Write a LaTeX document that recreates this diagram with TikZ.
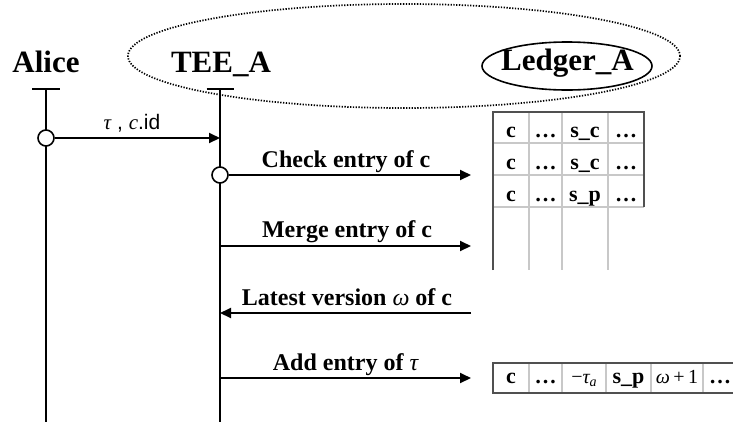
\documentclass[tikz,border=0pt]{standalone}
\usepackage{fontspec}
\setmainfont{Liberation Serif}
\setsansfont{Liberation Sans}
\usetikzlibrary{arrows.meta}
\definecolor{griddark}{HTML}{505050}
\definecolor{gridlight}{HTML}{C8C8C8}

% italic Greek letters taken from the serif text font
\newcommand{\gtau}{{\rmfamily\mdseries\itshape τ}}
\newcommand{\gomega}{{\rmfamily\mdseries\itshape ω}}

\tikzset{
  head/.style={anchor=base, inner sep=0pt, font=\fontsize{31}{31}\selectfont\bfseries},
  life/.style={line width=2pt},
  tbar/.style={line width=2pt},
  msg/.style={line width=2pt, -{Triangle[length=11pt,width=10pt]}},
  msglabel/.style={anchor=base, inner sep=0pt, font=\fontsize{24}{24}\selectfont\bfseries},
  origin/.style={circle, draw, fill=white, line width=1.6pt, minimum size=16pt, inner sep=0pt},
  cell/.style={anchor=base, inner sep=0pt, font=\fontsize{22}{22}\selectfont\bfseries},
  mcell/.style={anchor=base, inner sep=0pt, font=\fontsize{20}{20}\selectfont},
  gridin/.style={draw=gridlight, line width=1.2pt},
  gridout/.style={draw=griddark, line width=1.2pt},
  enclave/.style={line width=1.7pt, dash pattern=on 1.3pt off 1.5pt},
}

\begin{document}
\begin{tikzpicture}[x=1pt, y=-1pt]
\useasboundingbox (0,0) rectangle (733,424);

% trusted domain around the enclave and its ledger
\draw[enclave] (404,56) ellipse [x radius=276pt, y radius=52pt];

% participants
\node[head] (alice) at (46,72) {Alice};
\node[head] (tee) at (221,72) {TEE\_A};
\node[head] (ledger) at (567.5,70) {Ledger\_A};
\draw[line width=1.6pt] (567,66) ellipse [x radius=85pt, y radius=24pt];

% lifelines
\coordinate (aliceTop) at (46,89);
\coordinate (aliceBot) at (46,422);
\coordinate (teeTop) at (220,89);
\coordinate (teeBot) at (220,422);
\draw[life] (aliceTop) -- (aliceBot);
\draw[life] (teeTop) -- (teeBot);
\draw[tbar] ([xshift=-14pt]aliceTop) -- ([xshift=14pt]aliceTop);
\draw[tbar] ([xshift=-13.5pt]teeTop) -- ([xshift=13.5pt]teeTop);

% message 1: Alice -> TEE_A
\node[origin] (o1) at (46,138) {};
\coordinate (m1end) at (220,138);
\draw[msg] (o1.east) -- (m1end);
\node[anchor=base, inner sep=0pt, font=\sffamily\fontsize{21}{21}\selectfont] (m1lab) at (132,129)
  {\gtau\ , {\rmfamily\itshape c}.id};

% message 2: check entry
\node[origin] (o2) at (220,175) {};
\coordinate (m2end) at (471,175);
\draw[msg] (o2.east) -- (m2end);
\node[msglabel] (m2lab) at (346,167) {Check entry of c};

% message 3: merge entry
\coordinate (m3start) at (220,246);
\coordinate (m3end) at (471,246);
\draw[msg] (m3start) -- (m3end);
\node[msglabel] (m3lab) at (347,237) {Merge entry of c};

% message 4: latest version back to TEE_A
\coordinate (m4start) at (471,313);
\coordinate (m4end) at (220,313);
\draw[msg] (m4start) -- (m4end);
\node[msglabel] (m4lab) at (347,305) {Latest version \gomega\ of c};

% message 5: add entry
\coordinate (m5start) at (220,378);
\coordinate (m5end) at (471,378);
\draw[msg] (m5start) -- (m5end);
\node[msglabel] (m5lab) at (345.5,370) {Add entry of \gtau};

% ledger table
\draw[gridin] (493,143) -- (644,143) (493,175) -- (644,175) (493,207) -- (644,207);
\draw[gridin] (529,112) -- (529,270) (562,112) -- (562,270) (608,112) -- (608,270);
\draw[gridout] (493,270) -- (493,112) -- (644,112) -- (644,207);

\foreach \r/\y/\s in {1/137/c, 2/169/c, 3/201/p} {
  \node[cell] (t\r a) at (511,\y) {c};
  \node[cell] (t\r b) at (545.5,\y) {…};
  \node[cell] (t\r c) at (585,\y) {s\_\s};
  \node[cell] (t\r d) at (626,\y) {…};
}

% new entry row
\begin{scope}
\clip (0,0) rectangle (733,424);
\draw[gridin] (529,363) -- (529,393) (562,363) -- (562,393) (606,363) -- (606,393)
              (651,363) -- (651,393) (703,363) -- (703,393);
\draw[gridout] (740,363) -- (493,363) -- (493,393) -- (740,393);
\node[cell] (na) at (511,383) {c};
\node[cell] (nb) at (545.5,383) {…};
\node[mcell] (nc) at (584,383) {−\gtau\raisebox{-3.5pt}{\fontsize{14}{14}\selectfont\itshape a}};
\node[cell] (nd) at (628.5,383) {s\_p};
\node[mcell] (ne) at (677,383) {\gomega\,+\,1};
\node[cell] (nf) at (720,383) {…};
\end{scope}
\end{tikzpicture}
\end{document}
